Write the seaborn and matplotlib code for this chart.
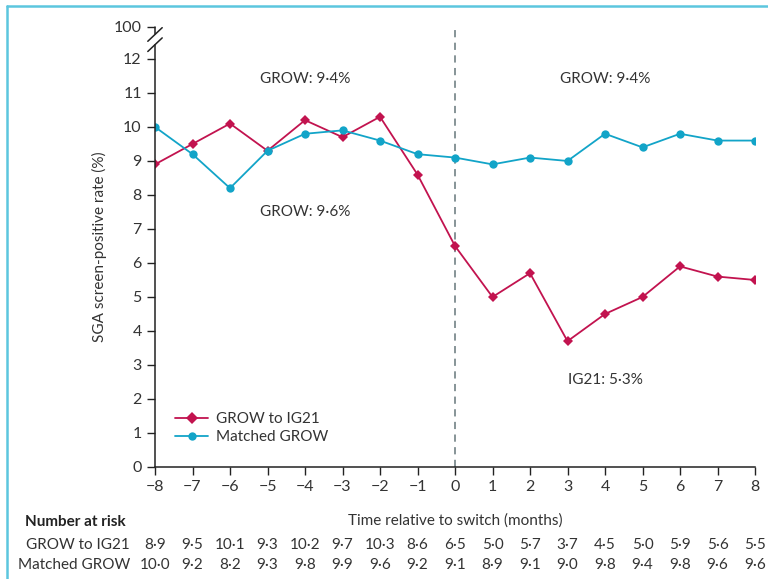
import matplotlib
matplotlib.use("Agg")
import matplotlib.pyplot as plt
import matplotlib.transforms as mtransforms
from matplotlib.lines import Line2D
import seaborn as sns
import pandas as pd

# data
months = list(range(-8, 9))
grow_to_ig21 = [8.9, 9.5, 10.1, 9.3, 10.2, 9.7, 10.3, 8.6, 6.5, 5.0, 5.7, 3.7, 4.5, 5.0, 5.9, 5.6, 5.5]
matched_grow = [10.0, 9.2, 8.2, 9.3, 9.8, 9.9, 9.6, 9.2, 9.1, 8.9, 9.1, 9.0, 9.8, 9.4, 9.8, 9.6, 9.6]
series_names = ["GROW to IG21", "Matched GROW"]
y_ticks = list(range(0, 13))

red = "#c2134f"
blue = "#12a4c8"

sns.set_style("ticks")
plt.rcParams['font.family'] = ['Lato', 'DejaVu Sans']

df = pd.DataFrame({
    "month": months * 2,
    "rate": grow_to_ig21 + matched_grow,
    "group": [series_names[0]] * len(months) + [series_names[1]] * len(months),
})

fig = plt.figure(figsize=(7.68, 5.79), dpi=100)
ax = fig.add_axes([155 / 768, 1 - 467 / 579, 600 / 768, 440 / 579])

sns.lineplot(data=df, x="month", y="rate", hue="group", style="group",
             markers={series_names[0]: "D", series_names[1]: "o"}, dashes=False,
             palette={series_names[0]: red, series_names[1]: blue},
             markersize=6, linewidth=1.3, markeredgewidth=0, ax=ax)
# smaller diamonds
for ln in ax.lines[:1]:
    ln.set_markersize(5.5)

ax.axvline(0, color="#7d8b8f", linestyle=(0, (4, 3)), linewidth=1.3, zorder=0)

top = 12.94
ax.set_xlim(-8, 8)
ax.set_ylim(0, top)
ax.set_xticks(months)
ax.set_xticklabels([str(m).replace("-", "\u2212") for m in months])
ax.set_yticks(y_ticks + [top])
ax.set_yticklabels([str(v) for v in y_ticks] + ["100"])
ax.tick_params(labelsize=11.5, length=6, width=1, color="#222222", labelcolor="#333333")
sns.despine(ax=ax)
ax.spines["left"].set_bounds(0, 12.42)
for s in ["left", "bottom"]:
    ax.spines[s].set_linewidth(1.1)
    ax.spines[s].set_color("#222222")

# axis break
trans = mtransforms.blended_transform_factory(ax.transAxes, ax.transData)
ax.add_line(Line2D([0, 0], [12.72, top], transform=trans, color="#222222", lw=1.1, clip_on=False))
for yc in (12.42, 12.72):
    ax.add_line(Line2D([-0.012, 0.012], [yc - 0.2, yc + 0.2], transform=trans,
                       color="#222222", lw=1.1, clip_on=False))

ax.set_xlabel("Time relative to switch (months)", fontsize=11, color="#333333", labelpad=14)
ax.set_ylabel("SGA screen-positive rate (%)", fontsize=11, color="#333333", labelpad=5)

ax.text(-4, 11.4, "GROW: 9\u00b74%", ha="center", va="center", fontsize=11, color="#333333")
ax.text(4, 11.4, "GROW: 9\u00b74%", ha="center", va="center", fontsize=11, color="#333333")
ax.text(-4, 7.5, "GROW: 9\u00b76%", ha="center", va="center", fontsize=11, color="#333333")
ax.text(4, 2.55, "IG21: 5\u00b73%", ha="center", va="center", fontsize=11, color="#333333")

ax.legend(loc="lower left", bbox_to_anchor=(0.01, 0.02), frameon=False, fontsize=11,
          handlelength=2.2, handletextpad=0.5, labelspacing=0.3, title=None,
          labelcolor="#333333")

# number at risk table
xtr = mtransforms.blended_transform_factory(ax.transData, fig.transFigure)
fig.text(25 / 768, 1 - 522 / 579, "Number at risk", fontsize=11, fontweight="bold",
         color="#222222", va="center", ha="left")
for row_y, name, vals in [(545, series_names[0], grow_to_ig21), (565, series_names[1], matched_grow)]:
    fig.text(130 / 768, 1 - row_y / 579, name, fontsize=11, color="#333333", va="center", ha="right")
    for m, v in zip(months, vals):
        ax.text(m, 1 - row_y / 579, f"{v:.1f}".replace(".", "\u00b7"), transform=xtr,
                fontsize=11, color="#333333", va="center", ha="center")

# decorative frame
fig.add_artist(Line2D([7 / 768, 1], [1 - 6 / 579] * 2, transform=fig.transFigure, color="#5cc6de", lw=1.8))
fig.add_artist(Line2D([7 / 768] * 2, [0, 1 - 6 / 579], transform=fig.transFigure, color="#5cc6de", lw=1.8))

fig.savefig("out.png", dpi=100)
